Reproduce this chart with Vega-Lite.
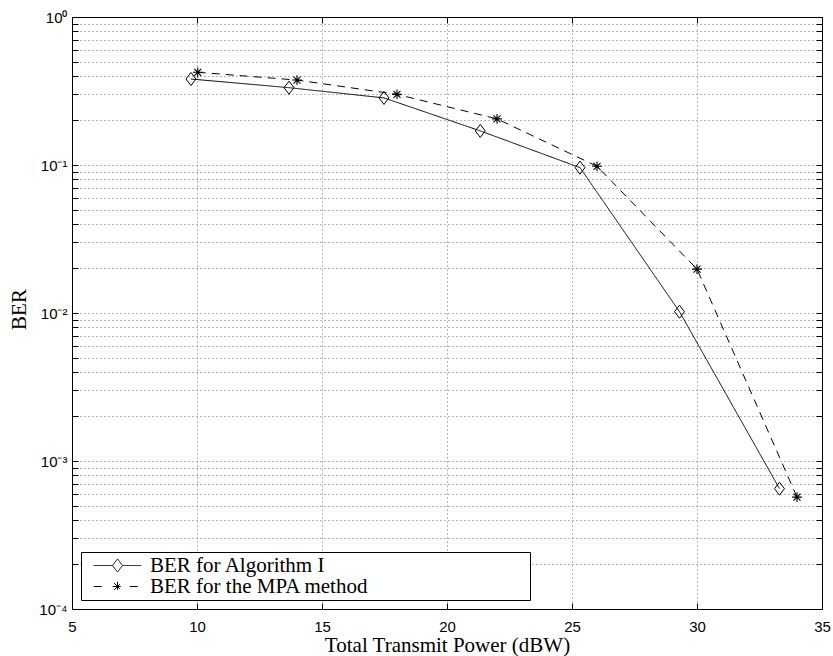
{
  "$schema": "https://vega.github.io/schema/vega-lite/v6.json",
  "width": 750,
  "height": 592,
  "autosize": {"type": "none"},
  "padding": {"left": 72, "top": 17, "right": 11, "bottom": 47},
  "background": "white",
  "data": {
    "values": [
      {"series": "BER for Algorithm I", "power": 9.76, "ber": 0.381},
      {"series": "BER for Algorithm I", "power": 13.68, "ber": 0.333},
      {"series": "BER for Algorithm I", "power": 17.48, "ber": 0.284},
      {"series": "BER for Algorithm I", "power": 21.33, "ber": 0.17},
      {"series": "BER for Algorithm I", "power": 25.32, "ber": 0.096},
      {"series": "BER for Algorithm I", "power": 29.3, "ber": 0.0102},
      {"series": "BER for Algorithm I", "power": 33.3, "ber": 0.00065},
      {"series": "BER for the MPA method", "power": 10.03, "ber": 0.423},
      {"series": "BER for the MPA method", "power": 14.0, "ber": 0.375},
      {"series": "BER for the MPA method", "power": 18.0, "ber": 0.30},
      {"series": "BER for the MPA method", "power": 22.0, "ber": 0.205},
      {"series": "BER for the MPA method", "power": 26.0, "ber": 0.098},
      {"series": "BER for the MPA method", "power": 30.0, "ber": 0.0198},
      {"series": "BER for the MPA method", "power": 34.0, "ber": 0.00057}
    ]
  },
  "config": {
    "view": {"stroke": "black", "strokeWidth": 1},
    "axis": {
      "domainColor": "black",
      "tickColor": "black",
      "labelColor": "black",
      "titleColor": "black",
      "labelFont": "Liberation Sans",
      "labelFontSize": 15,
      "titleFont": "Liberation Serif",
      "titleFontSize": 21,
      "titleFontWeight": "normal",
      "gridColor": "#444444",
      "gridDash": [1, 3],
      "gridWidth": 0.8,
      "gridOpacity": 1
    }
  },
  "layer": [
    {
      "mark": {"type": "line", "strokeWidth": 1},
      "encoding": {
        "x": {
          "field": "power",
          "type": "quantitative",
          "scale": {"domain": [5, 35], "nice": false, "zero": false},
          "axis": {
            "orient": "bottom",
            "title": "Total Transmit Power (dBW)",
            "values": [5, 10, 15, 20, 25, 30, 35],
            "grid": true,
            "tickSize": -6,
            "labelPadding": 16,
            "labelFlush": false,
            "titleX": 375,
            "titleY": 42,
            "titleAlign": "center",
            "titleBaseline": "alphabetic"
          }
        },
        "y": {
          "field": "ber",
          "type": "quantitative",
          "scale": {"type": "log", "domain": [0.0001, 1], "nice": false},
          "axis": {
            "orient": "left",
            "title": "BER",
            "values": [0.0001, 0.0002, 0.0003, 0.0004, 0.0005, 0.0006, 0.0007, 0.0008, 0.0009, 0.001, 0.002, 0.003, 0.004, 0.005, 0.006, 0.007, 0.008, 0.009, 0.01, 0.02, 0.03, 0.04, 0.05, 0.06, 0.07, 0.08, 0.09, 0.1, 0.2, 0.3, 0.4, 0.5, 0.6, 0.7, 0.8, 0.9, 1],
            "grid": true,
            "tickSize": -6,
            "labelPadding": 11,
            "labelFlush": false,
            "labelOverlap": false,
            "labelExpr": "datum.value == 1 ? '10⁰' : datum.value == 0.1 ? '10⁻¹' : datum.value == 0.01 ? '10⁻²' : datum.value == 0.001 ? '10⁻³' : datum.value == 0.0001 ? '10⁻⁴' : ''",
            "titleX": -47,
            "titleY": 292,
            "titleAngle": 270,
            "titleAlign": "center",
            "titleBaseline": "alphabetic",
            "encode": {
              "ticks": {
                "update": {
                  "x2": {"signal": "(datum.value == 1 || datum.value == 0.1 || datum.value == 0.01 || datum.value == 0.001 || datum.value == 0.0001) ? 6 : 3"}
                }
              }
            }
          }
        },
        "strokeDash": {
          "field": "series",
          "type": "nominal",
          "scale": {"domain": ["BER for Algorithm I", "BER for the MPA method"], "range": [[1, 0], [8, 6]]},
          "legend": null
        },
        "color": {
          "field": "series",
          "type": "nominal",
          "scale": {"domain": ["BER for Algorithm I", "BER for the MPA method"], "range": ["black", "black"]},
          "legend": {
            "orient": "bottom-left",
            "offset": 9,
            "title": null,
            "padding": 3,
            "rowPadding": -3,
            "symbolSize": 196,
            "symbolOffset": 23,
            "labelOffset": 22,
            "labelFont": "Liberation Serif",
            "labelFontSize": 21,
            "labelColor": "black",
            "labelLimit": 0,
            "strokeColor": "black",
            "fillColor": "white",
            "symbolStrokeWidth": 1,
            "symbolDash": [1, 0],
            "labelExpr": "datum.label + '\u00a0\u00a0\u00a0\u00a0\u00a0\u00a0\u00a0\u00a0\u00a0\u00a0\u00a0\u00a0\u00a0\u00a0\u00a0\u00a0\u00a0\u00a0\u00a0\u00a0\u00a0\u00a0\u00a0\u00a0\u00a0\u00a0\u00a0\u00a0\u00a0\u00a0\u200b'",
            "encode": {
              "symbols": {
                "update": {
                  "shape": {"signal": "datum.value === 'BER for Algorithm I' ? 'M-3.4,0L-0.71,0M0.71,0L3.4,0M0,-0.93L0.71,0L0,0.93L-0.71,0Z' : 'M-3.4,0L-1.75,0M1.75,0L3.4,0M-0.68,0L0.68,0M0,-0.68L0,0.68M-0.48,-0.48L0.48,0.48M-0.48,0.48L0.48,-0.48'"},
                  "stroke": {"value": "black"},
                  "fill": {"value": "transparent"},
                  "opacity": {"value": 1}
                }
              }
            }
          }
        }
      }
    },
    {
      "transform": [{"filter": "datum.series === 'BER for Algorithm I'"}],
      "mark": {"type": "point", "filled": false, "color": "black", "strokeWidth": 1, "size": 196, "opacity": 1, "shape": "M0,-0.93L0.71,0L0,0.93L-0.71,0Z"},
      "encoding": {
        "x": {
          "field": "power",
          "type": "quantitative",
          "scale": {"domain": [5, 35], "nice": false, "zero": false},
          "axis": {
            "orient": "top",
            "title": null,
            "labels": false,
            "values": [5, 10, 15, 20, 25, 30, 35],
            "grid": false,
            "tickSize": -6
          }
        },
        "y": {
          "field": "ber",
          "type": "quantitative",
          "scale": {"type": "log", "domain": [0.0001, 1], "nice": false},
          "axis": {
            "orient": "right",
            "title": null,
            "labels": false,
            "values": [0.0001, 0.0002, 0.0003, 0.0004, 0.0005, 0.0006, 0.0007, 0.0008, 0.0009, 0.001, 0.002, 0.003, 0.004, 0.005, 0.006, 0.007, 0.008, 0.009, 0.01, 0.02, 0.03, 0.04, 0.05, 0.06, 0.07, 0.08, 0.09, 0.1, 0.2, 0.3, 0.4, 0.5, 0.6, 0.7, 0.8, 0.9, 1],
            "grid": false,
            "tickSize": -6,
            "encode": {
              "ticks": {
                "update": {
                  "x2": {"signal": "(datum.value == 1 || datum.value == 0.1 || datum.value == 0.01 || datum.value == 0.001 || datum.value == 0.0001) ? -6 : -3"}
                }
              }
            }
          }
        }
      }
    },
    {
      "transform": [{"filter": "datum.series === 'BER for the MPA method'"}],
      "mark": {"type": "point", "filled": false, "color": "black", "strokeWidth": 1.1, "size": 196, "opacity": 1, "shape": "M-0.7,0L0.7,0M0,-0.7L0,0.7M-0.5,-0.5L0.5,0.5M-0.5,0.5L0.5,-0.5"},
      "encoding": {
        "x": {
          "field": "power",
          "type": "quantitative",
          "scale": {"domain": [5, 35], "nice": false, "zero": false},
          "axis": null
        },
        "y": {
          "field": "ber",
          "type": "quantitative",
          "scale": {"type": "log", "domain": [0.0001, 1], "nice": false},
          "axis": null
        }
      }
    }
  ],
  "resolve": {"axis": {"x": "independent", "y": "independent"}}
}
